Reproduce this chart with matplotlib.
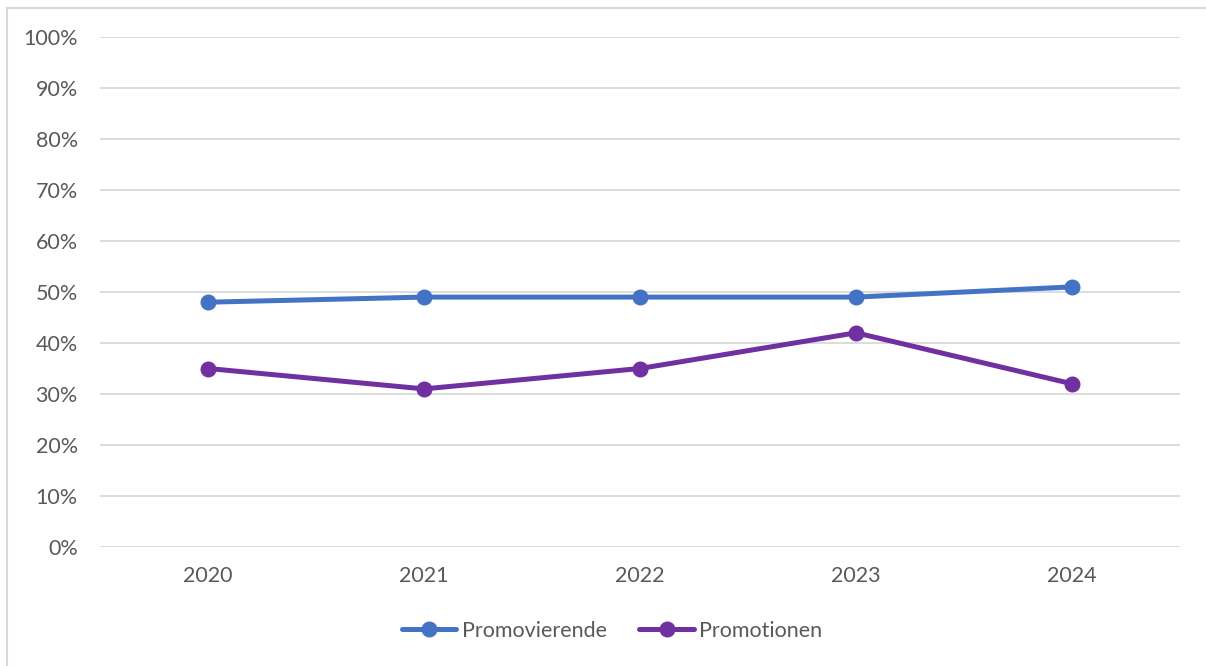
import matplotlib
matplotlib.use('Agg')
import matplotlib.pyplot as plt
from matplotlib.lines import Line2D
from matplotlib.ticker import FuncFormatter

# Daten
jahre = ['2020', '2021', '2022', '2023', '2024']
promovierende = [0.48, 0.49, 0.49, 0.49, 0.51]
promotionen = [0.35, 0.31, 0.35, 0.42, 0.32]

BLAU = '#4472C4'
LILA = '#7030A0'
TEXT = '#595959'
GRID = '#D9D9D9'

plt.rcParams['font.family'] = ['Lato', 'DejaVu Sans']

fig = plt.figure(figsize=(12.06, 6.66), dpi=100)
W, H = 1206, 666
# Plotbereich: x 100..1180, y 37..547 (Pixel)
ax = fig.add_axes([100 / W, 1 - 547 / H, 1080 / W, 510 / H])

x = range(len(jahre))
ax.plot(x, promovierende, color=BLAU, lw=3.6, marker='o', ms=10.5,
        label='Promovierende', solid_capstyle='round')
ax.plot(x, promotionen, color=LILA, lw=3.6, marker='o', ms=10.5,
        label='Promotionen', solid_capstyle='round')

ax.set_xlim(-0.5, len(jahre) - 0.5)
ax.set_ylim(0, 1)
ax.set_yticks([i / 10 for i in range(11)])
ax.yaxis.set_major_formatter(FuncFormatter(lambda v, p: f'{v * 100:.0f}%'))
ax.set_xticks(list(x))
ax.set_xticklabels(jahre)

ax.grid(axis='y', color=GRID, lw=1.3)
ax.set_axisbelow(True)
for s in ax.spines.values():
    s.set_visible(False)
ax.tick_params(length=0, colors=TEXT, labelsize=15.5)
ax.tick_params(axis='y', pad=16)
ax.tick_params(axis='x', pad=14)

leg = fig.legend(loc='center', bbox_to_anchor=(612 / W, 1 - 631 / H), ncol=2,
                 frameon=False, fontsize=15.5, handlelength=2.55,
                 columnspacing=1.5, handletextpad=0.25)
for t in leg.get_texts():
    t.set_color(TEXT)

# Diagrammrahmen (oben und links sichtbar)
fig.add_artist(Line2D([7 / W, 7 / W], [0, 1 - 7.5 / H], color=GRID, lw=1.5))
fig.add_artist(Line2D([7 / W, 1], [1 - 7.5 / H, 1 - 7.5 / H], color=GRID, lw=1.5))

fig.savefig('out.png', dpi=100)
